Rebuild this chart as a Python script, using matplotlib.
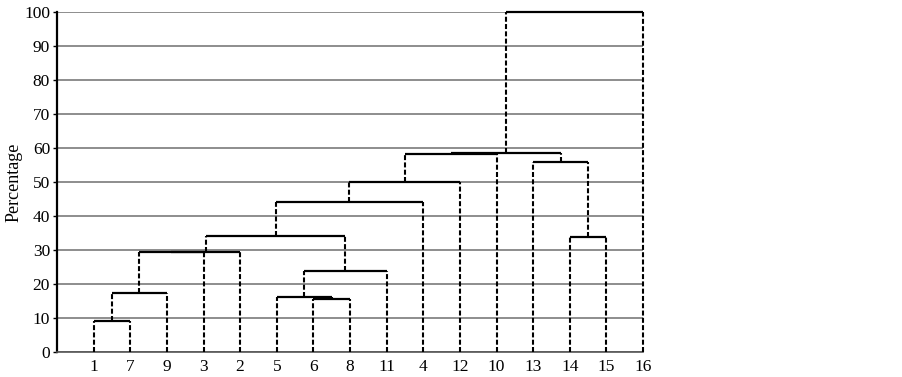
import matplotlib
matplotlib.use("Agg")
import matplotlib.pyplot as plt

# Leaf order along the x axis
leaf_labels = ["1", "7", "9", "3", "2", "5", "6", "8", "11", "4", "12", "10", "13", "14", "15", "16"]

# Merges: (left child, right child, height in %); children are leaf labels or "m<index>"
merge_left = ["1", "m0", "m1", "m2", "6", "5", "m5", "m3", "m7", "m8", "m9", "14", "13", "m10", "m13"]
merge_right = ["7", "9", "3", "2", "8", "m4", "11", "m6", "4", "12", "10", "15", "m11", "m12", "16"]
merge_height = [9.1, 17.5, 29.3, 29.3, 15.6, 16.3, 23.9, 34.0, 44.2, 50.1, 58.2, 33.9, 56.0, 58.6, 100.0]

y_ticks = [0, 10, 20, 30, 40, 50, 60, 70, 80, 90, 100]

plt.rcParams['font.family'] = ['Liberation Serif', 'DejaVu Serif']

fig = plt.figure(figsize=(9.02, 3.77), dpi=100)
ax = fig.add_axes([57 / 902, 1 - 352 / 377, (643 - 57) / 902, (352 - 12) / 377])

pos = {lab: i + 1 for i, lab in enumerate(leaf_labels)}
hgt = {lab: 0.0 for lab in leaf_labels}

dash = (0, (2.4, 1.1))
for i, (a, b, h) in enumerate(zip(merge_left, merge_right, merge_height)):
    xa, xb = pos[a], pos[b]
    ax.plot([xa, xa], [hgt[a], h], color='black', lw=1.5, linestyle=dash, zorder=3, clip_on=False)
    ax.plot([xb, xb], [hgt[b], h], color='black', lw=1.5, linestyle=dash, zorder=3, clip_on=False)
    ax.plot([xa, xb], [h, h], color='black', lw=1.6, solid_capstyle='butt', zorder=3, clip_on=False)
    key = "m%d" % i
    pos[key] = (xa + xb) / 2
    hgt[key] = h

ax.set_xlim(0, 16)
ax.set_ylim(0, 100)
ax.set_yticks(y_ticks)
ax.set_yticklabels([str(t) for t in y_ticks], fontsize=12.5)
ax.set_xticks(range(1, len(leaf_labels) + 1))
ax.set_xticklabels(leaf_labels, fontsize=12.5)
ax.tick_params(axis='x', length=0, pad=5)
ax.tick_params(axis='y', length=3, width=1, direction='out', pad=2)

for t in y_ticks:
    ax.axhline(t, color='#7a7a7a', lw=1.2, zorder=1)

for s in ['top', 'right']:
    ax.spines[s].set_visible(False)
ax.spines['left'].set_linewidth(1.6)
ax.spines['bottom'].set_linewidth(1.2)
ax.spines['bottom'].set_color('#555555')

ax.set_ylabel("Percentage", fontsize=13)
ax.yaxis.set_label_coords(-0.058, 0.5)

fig.savefig("out.png", dpi=100)
